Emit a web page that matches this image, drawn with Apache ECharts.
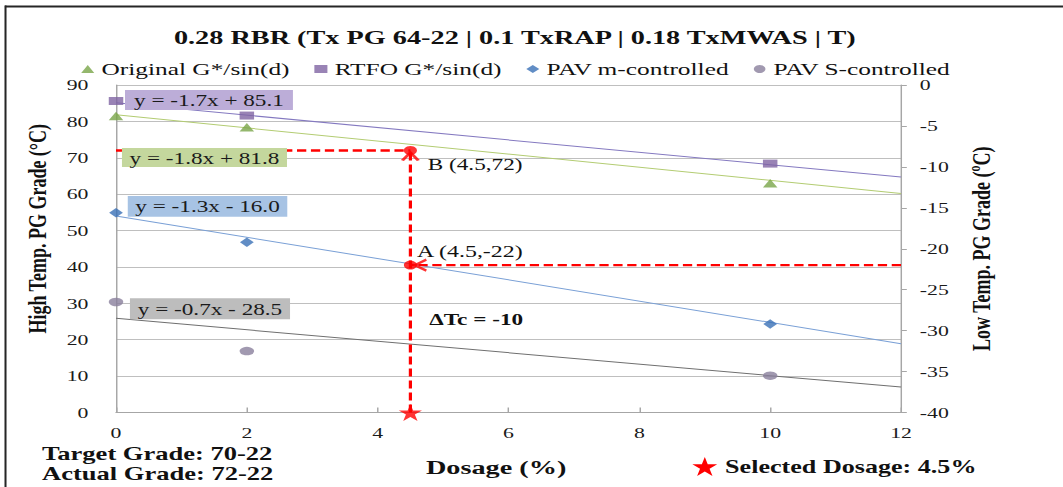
<!DOCTYPE html>
<html>
<head>
<meta charset="utf-8">
<script src="https://cdn.jsdelivr.net/npm/echarts@6/dist/echarts.min.js"></script>
<style>
  html, body { margin: 0; padding: 0; background: #fff; overflow: hidden; }
  #wrap { width: 1063px; height: 487px; overflow: hidden; position: relative; }
  /* the figure is laid out on a narrow canvas and widened horizontally */
  #chart { width: 733px; height: 487px; transform: scaleX(1.45020); transform-origin: 0 0; }
</style>
</head>
<body>
<div id="wrap"><div id="chart"></div></div>
<script>
// ---- data ----
const dosage = [0, 2, 10];
const originalG = [81.5, 78.4, 63.0];      // high temp, left axis
const rtfoG = [85.6, 81.6, 68.4];          // high temp, left axis
const pavM = [-15.6, -19.2, -29.2];        // low temp, right axis
const pavS = [-26.5, -32.5, -35.5];        // low temp, right axis

const seriesNames = ['Original G*/sin(d)', 'RTFO G*/sin(d)', 'PAV m-controlled', 'PAV S-controlled'];

// linear trend lines, same order as seriesNames
const trendSlope = [-1.8, -1.7, -1.3, -0.7];
const trendIntercept = [81.8, 85.1, -16.0, -28.5];
const trendLabels = ['y = -1.8x + 81.8', 'y = -1.7x + 85.1', 'y = -1.3x - 16.0', 'y = -0.7x - 28.5'];
const trendRange = [0, 12];

// selected dosage read-outs
const selectedDosage = 4.5;
const pointB = [4.5, 72];     // high temp grade
const pointA = [4.5, -22];    // low temp grade

// axis ticks
const xTicks = { min: 0, max: 12, step: 2 };
const highTicks = { min: 0, max: 90, step: 10 };
const lowTicks = { min: -40, max: 0, step: 5 };

// ---- styling ----
const SERIF = '"Liberation Serif", "Times New Roman", serif';
const RED = '#ff0000';
const markerColors = ['#79a548', '#8064a2', '#3a70b6', '#8a809c'];
const trendColors = ['#b3cc72', '#8479c0', '#7aa0d6', '#6f6f6f'];
const labelFills = ['#c4d79d', '#bcadd8', '#a7c3e4', '#bdbdbd'];
const markerShapes = ['triangle', 'rect', 'diamond', 'circle'];
const markerSizes = [[10, 8.5], [10, 8], [9.5, 9.5], [10, 8.5]];
const STAR = 'path://M50,0 L61.2,34.5 L97.6,34.5 L68.2,55.9 L79.4,90.5 L50,69.1 L20.6,90.5 L31.8,55.9 L2.4,34.5 L38.8,34.5 Z';

const valueSets = [originalG, rtfoG, pavM, pavS];
const axisOf = [0, 0, 1, 1];

const series = [];

// trend lines
trendSlope.forEach((m, i) => {
  series.push({
    type: 'line',
    yAxisIndex: axisOf[i],
    silent: true,
    symbol: 'none',
    z: 2,
    lineStyle: { color: trendColors[i], width: 1 },
    data: trendRange.map(x => [x, +(m * x + trendIntercept[i]).toFixed(3)])
  });
});

// guide lines to the read-out points
series.push({
  type: 'line', yAxisIndex: 0, silent: true, symbol: 'none', z: 4,
  lineStyle: { color: RED, width: 2.4, type: [6.4, 3.2] },
  data: [[0, pointB[1]], pointB]
});
series.push({
  type: 'line', yAxisIndex: 0, silent: true, symbol: 'none', z: 4,
  lineStyle: { color: RED, width: 2.2, type: [8, 4] },
  data: [[selectedDosage, 0], pointB]
});
series.push({
  type: 'line', yAxisIndex: 1, silent: true, symbol: 'none', z: 4,
  lineStyle: { color: RED, width: 2.4, type: [6.4, 3.2] },
  data: [[xTicks.max, pointA[1]], pointA]
});

// measured points
valueSets.forEach((vals, i) => {
  series.push({
    name: seriesNames[i],
    type: 'scatter',
    yAxisIndex: axisOf[i],
    symbol: markerShapes[i],
    symbolSize: markerSizes[i],
    z: 5,
    itemStyle: { color: markerColors[i] },
    data: dosage.map((d, k) => [d, vals[k]])
  });
});

// arrow heads
series.push({
  type: 'scatter', yAxisIndex: 0, silent: true, z: 6,
  symbol: 'path://M0,9 L6,0 L12,9', symbolSize: [11, 8], symbolOffset: [0, 6],
  itemStyle: { color: 'rgba(0,0,0,0)', borderColor: RED, borderWidth: 2 },
  data: [pointB]
});
series.push({
  type: 'scatter', yAxisIndex: 1, silent: true, z: 6,
  symbol: 'path://M9,0 L0,6 L9,12', symbolSize: [8, 11], symbolOffset: [7, 0],
  itemStyle: { color: 'rgba(0,0,0,0)', borderColor: RED, borderWidth: 2 },
  data: [pointA]
});

// read-out dots and the selected dosage star
series.push({
  type: 'scatter', yAxisIndex: 0, silent: true, z: 7,
  symbol: 'circle', symbolSize: [9, 9], itemStyle: { color: RED },
  data: [pointB]
});
series.push({
  type: 'scatter', yAxisIndex: 1, silent: true, z: 7,
  symbol: 'circle', symbolSize: [9, 9], itemStyle: { color: RED },
  data: [pointA]
});
series.push({
  type: 'scatter', yAxisIndex: 0, silent: true, z: 8,
  symbol: STAR, symbolSize: [16, 17], symbolKeepAspect: false, itemStyle: { color: RED },
  data: [[selectedDosage, 0]]
});

// ---- annotations (chart pixel space) ----
const boxes = [
  { x: 84.1, y: 148, w: 113.8, h: 19 },
  { x: 86.2, y: 90,  w: 115.8, h: 20 },
  { x: 88.1, y: 196, w: 110,   h: 20.7 },
  { x: 89.6, y: 298.3, w: 110.4, h: 21 }
];
const graphic = [
  { type: 'line', shape: { x1: 3.4, y1: 6.5, x2: 733, y2: 6.5 }, style: { stroke: '#262626', lineWidth: 2 } },
  { type: 'line', shape: { x1: 3.8, y1: 5.5, x2: 3.8, y2: 487 }, style: { stroke: '#262626', lineWidth: 1.4 } }
];
boxes.forEach((b, i) => {
  graphic.push({ type: 'rect', z: 20, shape: { x: b.x, y: b.y, width: b.w, height: b.h }, style: { fill: labelFills[i] } });
  graphic.push({
    type: 'text', z: 21, x: b.x + b.w / 2, y: b.y + b.h / 2 + 0.5,
    style: { text: trendLabels[i], fill: '#1a1a1a', font: '16px ' + SERIF, align: 'center', verticalAlign: 'middle' }
  });
});
const notes = [
  { text: 'B (' + pointB[0] + ',' + pointB[1] + ')', x: 295, y: 164, font: '16px ' + SERIF },
  { text: 'A (' + pointA[0] + ',' + pointA[1] + ')', x: 287.6, y: 251, font: '16.5px ' + SERIF },
  { text: '\u0394Tc = -10', x: 296, y: 319, font: 'bold 16px ' + SERIF },
  { text: 'Target Grade: 70-22', x: 29, y: 454, font: 'bold 18.3px ' + SERIF },
  { text: 'Actual Grade: 72-22', x: 29, y: 473.5, font: 'bold 18.3px ' + SERIF },
  { text: 'Selected Dosage: ' + selectedDosage + '%', x: 500, y: 467, font: 'bold 18px ' + SERIF }
];
notes.forEach(n => {
  graphic.push({
    type: 'text', z: 21, x: n.x, y: n.y,
    style: { text: n.text, fill: '#111', font: n.font, align: 'left', verticalAlign: 'middle' }
  });
});
// small star in front of the selected dosage note
const starPts = [[50,0],[61.2,34.5],[97.6,34.5],[68.2,55.9],[79.4,90.5],[50,69.1],[20.6,90.5],[31.8,55.9],[2.4,34.5],[38.8,34.5]];
graphic.push({
  type: 'polygon', z: 21,
  shape: { points: starPts.map(p => [477 + p[0] * 0.18, 457 + p[1] * 0.21]) },
  style: { fill: RED }
});

const axisGray = '#a6a6a6';
const tickFont = { fontFamily: SERIF, fontSize: 15, color: '#1a1a1a' };

const option = {
  animation: false,
  backgroundColor: '#ffffff',
  title: {
    text: '0.28 RBR (Tx PG 64-22 | 0.1 TxRAP | 0.18 TxMWAS | T)',
    left: 355, top: 27, textAlign: 'center', padding: 0,
    textStyle: { fontFamily: SERIF, fontWeight: 'bold', fontSize: 19.5, color: '#111' }
  },
  legend: {
    data: seriesNames,
    left: 51, top: 55,
    itemWidth: 9, itemHeight: 8, itemGap: 17,
    textStyle: { fontFamily: SERIF, fontSize: 17.5, color: '#111' }
  },
  grid: { left: 80, right: 111.7, top: 85, bottom: 74.5, containLabel: false },
  xAxis: {
    type: 'value', min: xTicks.min, max: xTicks.max, interval: xTicks.step,
    name: 'Dosage (%)', nameLocation: 'middle', nameGap: 45,
    nameTextStyle: { fontFamily: SERIF, fontWeight: 'bold', fontSize: 19.5, color: '#111', padding: [0, 17, 0, 0] },
    axisLine: { lineStyle: { color: axisGray, width: 1 } },
    axisTick: { inside: true, length: 5, lineStyle: { color: axisGray } },
    axisLabel: Object.assign({ margin: 13 }, tickFont),
    splitLine: { show: false }
  },
  yAxis: [
    {
      type: 'value', position: 'left', min: highTicks.min, max: highTicks.max, interval: highTicks.step,
      name: 'High Temp. PG Grade (°C)', nameLocation: 'middle', nameRotate: 90, nameGap: 45,
      nameTextStyle: { fontFamily: SERIF, fontWeight: 'bold', fontSize: 18, color: '#111', padding: [0, 0, 0, 40] },
      axisLine: { show: true, lineStyle: { color: axisGray } },
      axisTick: { show: false },
      axisLabel: Object.assign({ margin: 19 }, tickFont),
      splitLine: { show: true, lineStyle: { color: '#bfbfbf', width: 1 } }
    },
    {
      type: 'value', position: 'right', min: lowTicks.min, max: lowTicks.max, interval: lowTicks.step,
      name: 'Low Temp. PG Grade (ºC)', nameLocation: 'middle', nameRotate: 90, nameGap: 46,
      nameTextStyle: { fontFamily: SERIF, fontWeight: 'bold', fontSize: 18, color: '#111' },
      axisLine: { show: true, lineStyle: { color: axisGray } },
      axisTick: { show: true, inside: false, length: 4, lineStyle: { color: axisGray } },
      axisLabel: Object.assign({ margin: 13 }, tickFont),
      splitLine: { show: false }
    }
  ],
  graphic: graphic,
  series: series
};

const chart = echarts.init(document.getElementById('chart'), null, { renderer: 'svg', width: 733, height: 487 });
chart.setOption(option);
</script>
</body>
</html>
